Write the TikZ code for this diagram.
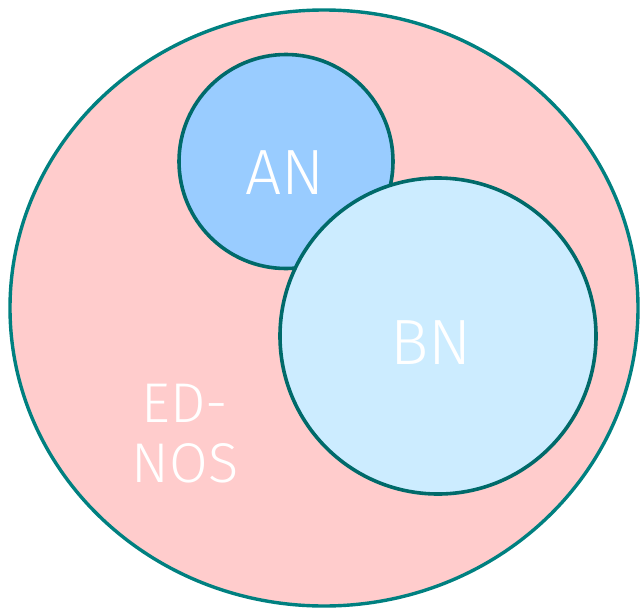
\documentclass[tikz,border=0pt]{standalone}
\usepackage{fontspec}
\setmainfont{Fira Sans Light}
\usetikzlibrary{shapes.geometric}
\definecolor{rimouter}{HTML}{008080}
\definecolor{riminner}{HTML}{006A6A}
\definecolor{fillouter}{HTML}{FFCCCC}
\definecolor{fillan}{HTML}{99CCFF}
\definecolor{fillbn}{HTML}{CCECFF}
\tikzset{
  setlabel/.style={text=white, font=\fontsize{64}{64}\selectfont, inner sep=0pt},
  subset/.style={circle, draw=riminner, line width=3.6pt, inner sep=0pt},
}
\begin{document}
\begin{tikzpicture}[x=1pt,y=-1pt]
  \useasboundingbox (0,0) rectangle (640,608);
  % universe set
  \node[ellipse, draw=rimouter, fill=fillouter, line width=3.4pt,
        minimum width=628pt, minimum height=596pt, inner sep=0pt] (ednos) at (324,308) {};
  % subsets
  \node[subset, fill=fillan, minimum size=214pt] (an) at (286,161.5) {};
  \node[subset, fill=fillbn, minimum size=316pt] (bn) at (438,336) {};
  % labels
  \node[setlabel] (anlabel) at (285,173) {AN};
  \node[setlabel] (bnlabel) at (431,343) {BN};
  \node[setlabel, font=\fontsize{56}{60}\selectfont, align=center] (ednoslabel) at (185,434) {ED-\\NOS};
\end{tikzpicture}
\end{document}
